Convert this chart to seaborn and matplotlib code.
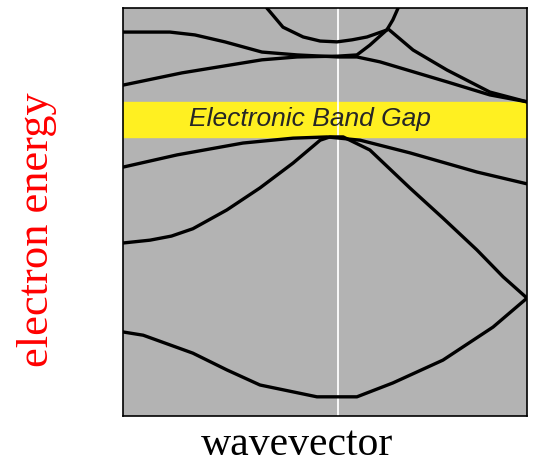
import pandas as pd
import matplotlib
matplotlib.use("Agg")
import matplotlib.pyplot as plt
import seaborn as sns

# wavevector k (0..100 across the zone) and electron energy E (0..100)
k_arc = [35.6, 39.6, 44.6, 48.8, 53.0, 56.7, 60.4, 65.3, 66.8, 68.1]
e_arc = [100.0, 95.3, 92.9, 91.9, 91.7, 92.2, 92.9, 94.6, 97.1, 100.0]

k_c2 = [0, 11.6, 17.8, 25.2, 34.4, 43.1, 53.2, 57.9, 63.6, 80.2, 90.8, 100]
e_c2 = [94.1, 94.1, 93.4, 91.7, 89.2, 88.5, 88.0, 88.0, 86.8, 81.9, 78.7, 77.0]

k_c3 = [0, 14.6, 34.4, 43.1, 53.2, 57.9, 61.1, 65.6, 71.8, 80.2, 90.8, 100]
e_c3 = [81.1, 84.1, 87.3, 88.0, 88.2, 88.5, 90.9, 94.9, 89.7, 84.8, 79.4, 77.0]

k_c4 = [0, 13.4, 29.7, 42.1, 50.5, 58.7, 71.0, 87.6, 100]
e_c4 = [61.0, 64.0, 66.9, 68.1, 68.4, 67.6, 64.5, 59.8, 56.9]

k_c5 = [0, 6.7, 12.0, 17.3, 25.7, 33.9, 42.1, 48.8, 51.2, 54.5, 61.1, 71.0, 79.2, 87.6, 94.1, 100]
e_c5 = [42.4, 43.1, 44.1, 45.9, 50.5, 55.9, 62.0, 67.6, 68.4, 68.4, 65.2, 55.9, 48.5, 40.7, 34.1, 28.9]

k_c6 = [0, 5.0, 17.3, 25.7, 33.9, 48.0, 57.9, 66.8, 79.2, 91.6, 100]
e_c6 = [20.6, 19.8, 15.4, 11.3, 7.6, 4.7, 4.7, 8.1, 13.7, 21.8, 28.9]

gap_bottom, gap_top = 68.4, 77.0
k_gamma = 53.2
gap_label = "Electronic Band Gap"

bands = [(k_arc, e_arc), (k_c2, e_c2), (k_c3, e_c3),
         (k_c4, e_c4), (k_c5, e_c5), (k_c6, e_c6)]

sns.set_style("white")
fig = plt.figure(figsize=(5.38, 4.68), dpi=100)
ax = fig.add_axes([123 / 538, 52 / 468, 404 / 538, 408 / 468])
ax.set_facecolor("#b3b3b3")

# band gap
ax.axhspan(gap_bottom, gap_top, color="#fff021", zorder=1)
ax.text(46.3, (gap_bottom + gap_top) / 2, gap_label, ha="center", va="center",
        fontsize=19, style="italic", family="Liberation Sans", zorder=5)

# gamma point
ax.axvline(k_gamma, color="white", lw=1.3, zorder=2)

for k, e in bands:
    df = pd.DataFrame({"k": k, "E": e})
    sns.lineplot(data=df, x="k", y="E", sort=False, color="black",
                 lw=2.4, ax=ax, zorder=3)

ax.set_xlim(0, 100)
ax.set_ylim(0, 100)
ax.set_xticks([])
ax.set_yticks([])
ax.set_xlabel("")
ax.set_ylabel("")
for s in ax.spines.values():
    s.set_visible(True)
    s.set_color("black")
    s.set_linewidth(1.2)

fig.text(37 / 538, 1 - 230 / 468, "electron energy", rotation=90, color="red",
         ha="center", va="center", fontsize=32, family="Liberation Serif")
fig.text(297 / 538, 1 - 455 / 468, "wavevector", color="black",
         ha="center", va="baseline", fontsize=30, family="Liberation Serif")

fig.savefig("out.png", dpi=100)
